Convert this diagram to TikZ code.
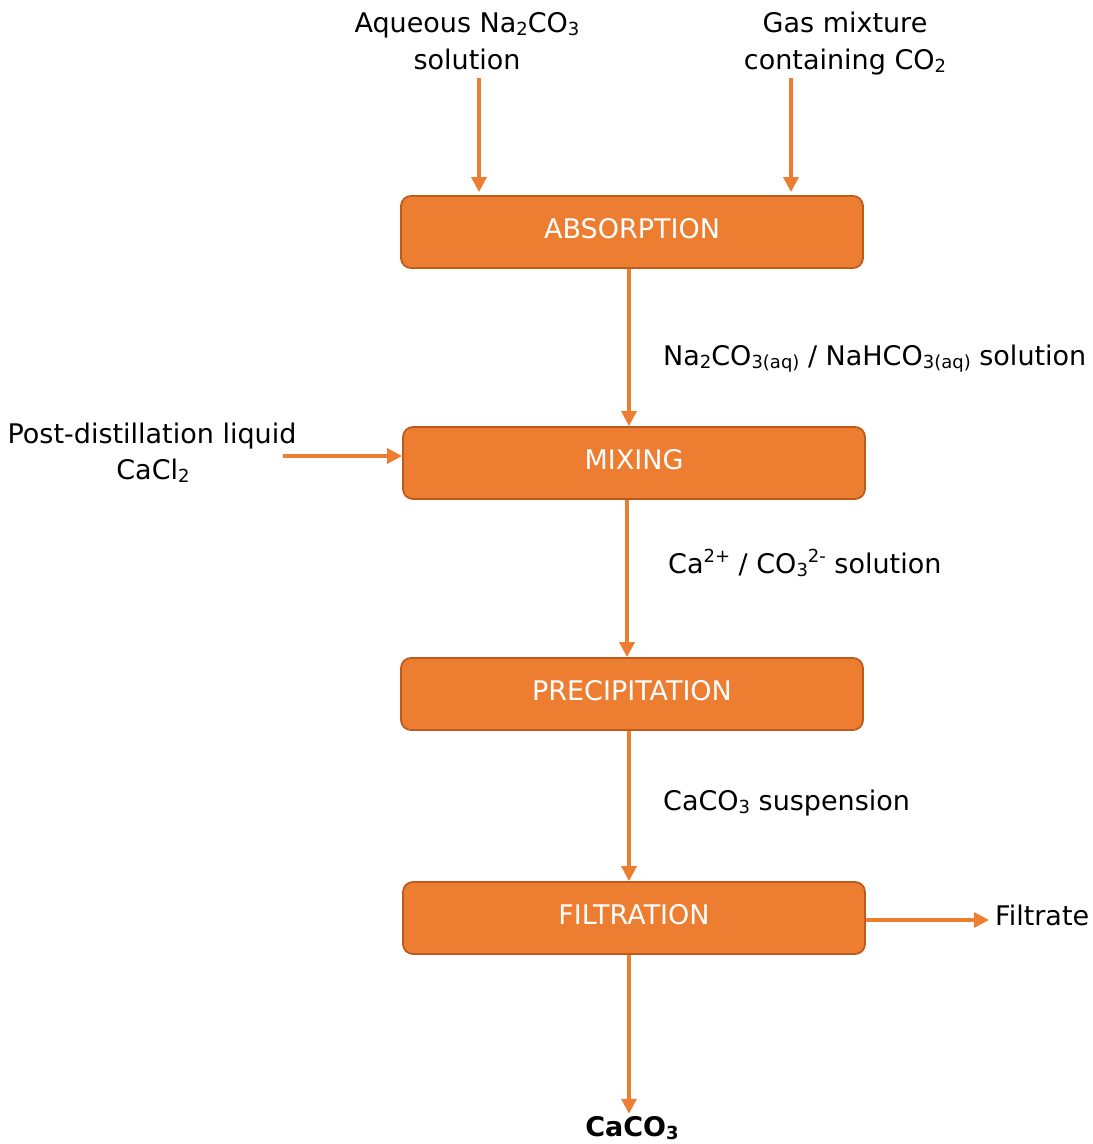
\documentclass[tikz,border=0pt]{standalone}
\usepackage{fontspec}
\setmainfont{DejaVu Sans}
\usetikzlibrary{arrows.meta}
\definecolor{orng}{HTML}{ED7D31}
\definecolor{orngdark}{HTML}{BD5B1C}
\newcommand{\lo}[1]{\raisebox{-0.12em}{\fontsize{18}{18}\selectfont #1}}
\newcommand{\hi}[1]{\raisebox{0.4em}{\fontsize{18}{18}\selectfont #1}}
\begin{document}
\begin{tikzpicture}[x=1pt,y=-1pt,
  font=\fontsize{27}{37}\selectfont,
  box/.style={draw=orngdark, line width=1.8pt, fill=orng, rounded corners=10pt,
    minimum width=462pt, minimum height=72pt, text=white, inner sep=0pt, text depth=7.7pt},
  flow/.style={draw=orng, line width=3.2pt, -{Triangle[length=15pt,width=15pt]}},
  lbl/.style={inner sep=0pt, anchor=base}]
\useasboundingbox (0,0) rectangle (1093,1144);

% process boxes
\node[box] (abs)  at (632,232) {ABSORPTION};
\node[box] (mix)  at (634,463) {MIXING};
\node[box] (prec) at (632,694) {PRECIPITATION};
\node[box] (filt) at (634,918) {FILTRATION};

% input labels
\node[lbl] (aq1) at (467,32) {Aqueous Na\lo{2}CO\lo{3}};
\node[lbl] (aq2) at (467,69) {solution};
\node[lbl] (gas1) at (845,32) {Gas mixture};
\node[lbl] (gas2) at (845,69) {containing CO\lo{2}};
\node[lbl] (pd1) at (152,443) {Post-distillation liquid};
\node[lbl] (pd2) at (153,479) {CaCl\lo{2}};

% stream labels
\node[lbl, anchor=base west] (s1) at (663,365) {Na\lo{2}CO\lo{3(aq)} / NaHCO\lo{3(aq)} solution};
\node[lbl, anchor=base west] (s2) at (668,573) {Ca\hi{2+} / CO\lo{3}\hi{2-} solution};
\node[lbl, anchor=base west] (s3) at (663,810) {CaCO\lo{3} suspension};
\node[lbl, anchor=base west] (filtrate) at (995,925) {Filtrate};
\node[lbl] (caco) at (632,1136) {\bfseries CaCO\lo{\bfseries 3}};

% free ends
\coordinate (in1) at (479,78);
\coordinate (in2) at (791,78);
\coordinate (in3) at (283,456);

% connectors
\draw[flow, shorten >=3pt] (in1) -- (in1 |- abs.north);
\draw[flow, shorten >=3pt] (in2) -- (in2 |- abs.north);
\draw[flow] ([xshift=-3pt]abs.south) -- ([xshift=-5pt]mix.north);
\draw[flow] (in3) -- (in3 -| mix.west);
\draw[flow] ([xshift=-7pt]mix.south) -- ([xshift=-5pt]prec.north);
\draw[flow] ([xshift=-3pt]prec.south) -- ([xshift=-5pt]filt.north);
\draw[flow, shorten >=6pt] ([yshift=-2pt]filt.east) -- ([yshift=-2pt]filt.east -| filtrate.west);
\draw[flow, shorten >=2pt] ([xshift=-5pt]filt.south) -- ([xshift=-3pt]caco.north);
\end{tikzpicture}
\end{document}
